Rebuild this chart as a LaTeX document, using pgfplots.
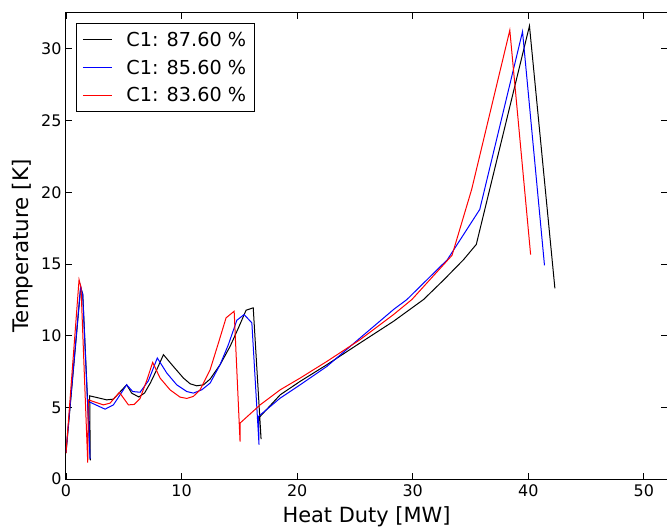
\documentclass[border=0pt]{standalone}
\usepackage{fontspec}
\setmainfont{DejaVu Sans}
\usepackage{pgfplots}
\pgfplotsset{compat=1.18}
\usetikzlibrary{calc}

\begin{document}
\begin{tikzpicture}
\begin{axis}[
    name=ax,
    scale only axis,
    width=601bp, height=466bp,
    xmin=0, xmax=52, ymin=0, ymax=32.5,
    xtick={0,10,...,50}, ytick={0,5,...,30},
    tick align=inside,
    major tick length=6bp,
    tick style={black, line width=0.8bp},
    axis line style={black, line width=1bp},
    /pgf/number format/assume math mode=true,
    ticklabel style={font=\fontsize{16}{16}\selectfont},
    xticklabel style={yshift=-2bp},
    yticklabel style={xshift=-1bp},
    xlabel={Heat Duty [MW]},
    ylabel={Temperature [K]},
    xlabel style={font=\fontsize{21}{21}\selectfont, at={(axis description cs:0.5,-0.0923)}, anchor=base},
    ylabel style={font=\fontsize{21.5}{21.5}\selectfont, at={(axis description cs:-0.0627,0.5)}, anchor=base},
    legend cell align=left,
    legend style={at={(0.0166,0.9785)}, anchor=north west, draw=black, line width=1bp,
        font=\fontsize{19.3}{19.3}\selectfont, row sep=8bp, inner xsep=6bp, inner ysep=6.5bp},
    legend image code/.code={\draw[#1] (0bp,0bp) -- (29bp,0bp);},
    every axis plot/.append style={line width=1bp},
]
\addplot[black] coordinates {
(0,1.8) (1.27,13.35) (1.45,12.9) (2.1,1.3) (2.05,5.8) (3.52,5.52) (4.1,5.57) (5.25,6.57)
(5.68,5.99) (6.3,5.72) (6.8,6.0) (7.3,6.7) (7.85,7.62) (8.43,8.67) (9.29,7.85) (10.16,7.04)
(10.74,6.64) (11.31,6.5) (11.9,6.57) (12.47,6.97) (13.33,7.97) (14.2,9.25) (14.92,10.54)
(15.58,11.77) (16.2,11.94) (16.88,2.78) (16.74,4.31) (18.53,5.87) (20.26,6.81) (22.57,7.97)
(25.45,9.49) (28.34,11.0) (30.94,12.52) (32.7,13.9) (34.4,15.3) (35.5,16.36) (40.1,31.6)
(42.3,13.3)
};
\addlegendentry{\hspace{12bp}C1: 87.60 \%\hspace{3bp}}
\addplot[blue] coordinates {
(0,1.9) (1.27,13.45) (1.45,12.8) (2.08,1.4) (1.93,5.41) (3.38,4.87) (4.1,5.17) (5.25,6.57)
(5.77,6.1) (6.41,6.05) (7.13,6.85) (7.9,8.44) (8.72,7.39) (9.58,6.57) (10.45,6.1) (11.02,5.99)
(11.75,6.22) (12.47,6.69) (13.33,7.97) (14.05,9.37) (14.78,11.07) (15.41,11.47) (16.08,10.89)
(16.7,2.4) (16.65,4.36) (18.53,5.64) (20.26,6.57) (22.57,7.85) (25.45,9.84) (28.34,11.82)
(29.5,12.52) (33,15.3) (35.8,18.8) (39.5,31.2) (41.4,14.9)
};
\addlegendentry{\hspace{12bp}C1: 85.60 \%\hspace{3bp}}
\addplot[red] coordinates {
(0,1.8) (1.13,13.9) (1.3,13.35) (1.88,1.15) (1.93,5.52) (3.23,5.17) (3.81,5.29) (4.62,6.04)
(5.4,5.17) (5.9,5.2) (6.4,5.6) (7.0,6.9) (7.5,8.13) (8.14,7.04) (9.0,6.22) (9.87,5.71)
(10.45,5.62) (11.02,5.76) (11.6,6.22) (12.47,7.62) (13.19,9.49) (13.85,11.24) (14.55,11.7)
(15.06,2.6) (15.06,3.9) (16.8,5.17) (18.53,6.22) (20.26,7.04) (22.57,8.2) (25.45,9.72)
(28.34,11.47) (29.93,12.52) (33.4,15.6) (35.1,20.2) (38.4,31.3) (40.2,15.65)
};
\addlegendentry{\hspace{12bp}C1: 83.60 \%\hspace{3bp}}
\end{axis}
\pgfresetboundingbox
\path ($(ax.south west)+(-66bp,-51bp)$) rectangle ($(ax.north east)+(0bp,13bp)$);
\end{tikzpicture}
\end{document}
